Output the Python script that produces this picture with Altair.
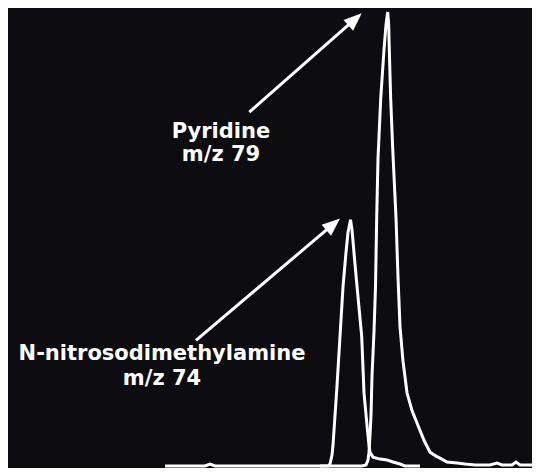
import altair as alt
import pandas as pd

# Chromatogram traces: x = scan position, y = abundance (arbitrary units)
pyr_x = [165, 205, 210, 215, 300, 362, 366, 368, 369, 370, 371, 372, 374, 375.5, 376.7, 378, 380.7, 384, 386, 387.7,
         388.7, 389.3, 390.7, 392.7, 396, 398, 400, 403, 407, 412, 418, 424, 430, 436, 440, 447, 457, 465, 475,
         490, 497, 502, 512, 516, 520, 540]
pyr_y = [0, 0, 2, 0, 0, 0, 1, 6, 14, 31, 51, 91, 136, 181, 251, 311, 371, 421, 446, 459,
         446, 421, 371, 321, 251, 191, 141, 106, 74, 56, 41, 26, 14, 10, 8, 4, 3, 2, 1,
         1, 3, 1, 1, 4, 1, 1]

ndma_x = [320, 328, 330, 332, 333, 335, 337, 340, 343, 346, 348, 350.5, 352, 355, 358, 361.7, 364, 367, 369, 370,
          373, 380, 387, 393, 400, 405, 420]
ndma_y = [0, 0, 2, 11, 21, 51, 81, 131, 181, 216, 236, 249, 239, 204, 171, 131, 74, 41, 21, 14,
          9, 7, 6, 4, 2, 0, 0]

# Annotations
lbl_text = ["Pyridine", "m/z 79", "N-nitrosodimethylamine", "m/z 74"]
lbl_x = [221, 221, 162, 162]
lbl_y = [332, 308, 107, 82]

arr_x = [249.3, 196]
arr_y = [357.7, 127]
arr_x2 = [352.7, 330.9]
arr_y2 = [449.7, 242.5]
tip_x = [361.7, 340]
tip_y = [457.7, 250.3]
tip_angle = [48.0, 49.2]

XS = alt.Scale(domain=[8, 532])
YS = alt.Scale(domain=[-2.02, 463.04])

df_trace = pd.DataFrame({
    "x": pyr_x + ndma_x,
    "y": pyr_y + ndma_y,
    "ion": ["m/z 79"] * len(pyr_x) + ["m/z 74"] * len(ndma_x),
})
df_lbl = pd.DataFrame({"t": lbl_text, "x": lbl_x, "y": lbl_y})
df_arr = pd.DataFrame({"x": arr_x, "y": arr_y, "x2": arr_x2, "y2": arr_y2,
                       "tx": tip_x, "ty": tip_y, "a": tip_angle})

traces = alt.Chart(df_trace).mark_line(color="white", strokeWidth=3, strokeJoin="miter", clip=True).encode(
    x=alt.X("x:Q", scale=XS, axis=None),
    y=alt.Y("y:Q", scale=YS, axis=None),
    detail="ion:N",
)

shafts = alt.Chart(df_arr).mark_rule(color="white", strokeWidth=3).encode(
    x=alt.X("x:Q", scale=XS, axis=None),
    y=alt.Y("y:Q", scale=YS, axis=None),
    x2="x2:Q",
    y2="y2:Q",
)

heads = alt.Chart(df_arr).mark_point(
    shape="M0,0L-0.4,1L0.4,1Z", filled=True, color="white", opacity=1, size=1296, strokeWidth=0
).encode(
    x=alt.X("tx:Q", scale=XS, axis=None),
    y=alt.Y("ty:Q", scale=YS, axis=None),
    angle=alt.Angle("a:Q", scale=None),
)

labels = alt.Chart(df_lbl).mark_text(
    color="white", font="DejaVu Sans", fontWeight="bold", fontSize=21, align="center", baseline="alphabetic"
).encode(
    x=alt.X("x:Q", scale=XS, axis=None),
    y=alt.Y("y:Q", scale=YS, axis=None),
    text="t:N",
)

chart = alt.layer(traces, shafts, heads, labels).properties(
    width=524, height=460,
    autosize=alt.AutoSizeParams(type="fit", contains="padding"),
    padding=0,
    background="#0c0c11",
).configure_view(stroke=None)

chart.save("out.html", embed_options={"renderer": "svg", "actions": False})
